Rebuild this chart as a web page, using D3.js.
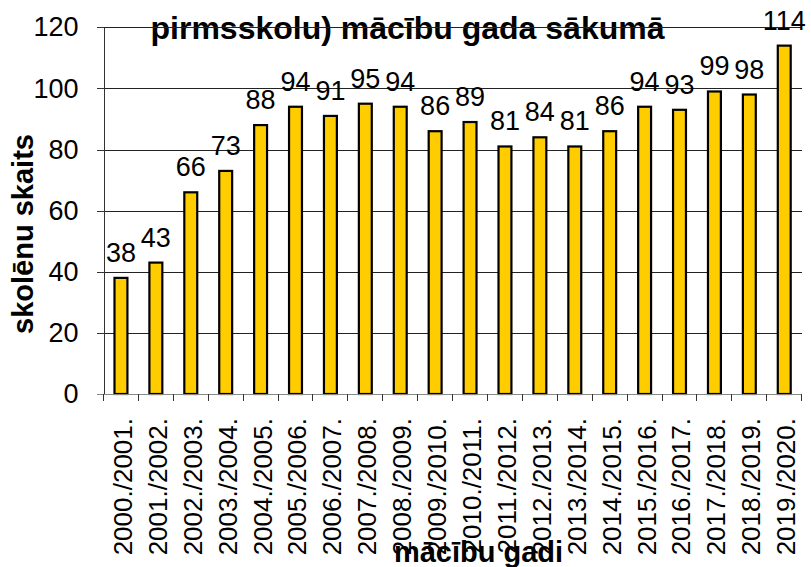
<!doctype html>
<html lang="lv">
<head>
  <meta charset="utf-8">
  <title>Skolēnu skaits mācību gada sākumā</title>
  <style>
    body { margin: 0; background: #fff; }
    svg { display: block; font-family: "Liberation Sans", Arial, sans-serif; }
    .bar { fill: #ffcc00; stroke: #000; stroke-width: 2.2; }
    .grid line { stroke: #222; shape-rendering: crispEdges; }
    .grid path { display: none; }
    .yaxis path, .yaxis line { stroke: #333; shape-rendering: crispEdges; }
    .yaxis text { font-size: 27px; fill: #000; }
    .xaxis path { stroke: #888; shape-rendering: crispEdges; }
    .xaxis text { font-size: 26px; fill: #000; }
    .xtick { stroke: #333; shape-rendering: crispEdges; }
    .label { font-size: 27px; fill: #000; text-anchor: middle; }
    .title { font-size: 32px; font-weight: bold; fill: #000; }
    .axis-title { font-size: 29px; font-weight: bold; fill: #000; text-anchor: middle; }
  </style>
</head>
<body>
  <script src="https://d3js.org/d3.v7.min.js" charset="utf-8"></script>
  <script>
(function() {

var years = ["2000./2001.", "2001./2002.", "2002./2003.", "2003./2004.", "2004./2005.",
  "2005./2006.", "2006./2007.", "2007./2008.", "2008./2009.", "2009./2010.",
  "2010./2011.", "2011./2012.", "2012./2013.", "2013./2014.", "2014./2015.",
  "2015./2016.", "2016./2017.", "2017./2018.", "2018./2019.", "2019./2020."];
var students = [38, 43, 66, 73, 88, 94, 91, 95, 94, 86, 89, 81, 84, 81, 86, 94, 93, 99, 98, 114];
var yTicks = [0, 20, 40, 60, 80, 100, 120];
var title = "pirmsskolu) mācību gada sākumā";
var yTitle = "skolēnu skaits";
var xTitle = "mācību gadi";

var W = 811, H = 567;
var plotLeft = 103.5, plotRight = 801.7, plotTop = 27.3, plotBottom = 394;

var svg = d3.select("body").append("svg")
    .attr("width", W)
    .attr("height", H);

var x = d3.scaleBand().domain(years).range([plotLeft, plotRight]);
var xb = d3.scaleBand().domain(years).range([plotLeft, plotRight])
    .paddingInner(0.63).paddingOuter(0.315);
var y = d3.scaleLinear().domain([0, 120]).range([plotBottom, plotTop]);

// title (only its last line is inside the picture)
svg.append("text").attr("class", "title")
    .attr("x", 407.5).attr("y", 39)
    .attr("text-anchor", "middle")
    .text(title);

// gridlines
svg.append("g").attr("class", "grid")
    .attr("transform", "translate(" + plotLeft + ",0)")
    .call(d3.axisLeft(y).tickValues(yTicks.filter(function(d) { return d > 0; }))
      .tickSize(-(plotRight - plotLeft)).tickFormat(""));

// bars
svg.selectAll("rect.bar").data(students).enter().append("rect")
    .attr("class", "bar")
    .attr("x", function(d, i) { return xb(years[i]); })
    .attr("width", xb.bandwidth())
    .attr("y", function(d) { return y(d); })
    .attr("height", function(d) { return y(0) - y(d); });

// value labels
svg.selectAll("text.label").data(students).enter().append("text")
    .attr("class", "label")
    .attr("x", function(d, i) { return x(years[i]) + x.bandwidth() / 2; })
    .attr("y", function(d) { return y(d) - 16; })
    .text(function(d) { return d; });

// y axis
svg.append("g").attr("class", "yaxis")
    .attr("transform", "translate(" + plotLeft + ",0)")
    .call(d3.axisLeft(y).tickValues(yTicks).tickSize(7).tickSizeOuter(0).tickPadding(18));

// x axis
var xg = svg.append("g").attr("class", "xaxis")
    .attr("transform", "translate(0," + plotBottom + ")")
    .call(d3.axisBottom(x).tickSize(0).tickSizeOuter(0));
xg.selectAll(".tick line").remove();
xg.select(".domain").attr("d", "M" + (plotLeft - 7) + ",0.5H" + plotRight);
xg.selectAll(".tick text")
    .attr("transform", "rotate(-90)")
    .attr("x", -24)
    .attr("y", 0)
    .attr("dy", "0.42em")
    .style("text-anchor", "end");

// ticks between categories
xg.selectAll("line.xtick").data(years.map(function(d) { return x(d); }).concat([plotRight]))
  .enter().append("line")
    .attr("class", "xtick")
    .attr("x1", function(d) { return d; })
    .attr("x2", function(d) { return d; })
    .attr("y1", 0)
    .attr("y2", 7);

// axis titles
svg.append("text").attr("class", "axis-title")
    .attr("transform", "translate(33,234) rotate(-90)")
    .text(yTitle);
svg.append("text").attr("class", "axis-title")
    .attr("x", 478.5).attr("y", 562)
    .text(xTitle);

})();
  </script>
</body>
</html>
